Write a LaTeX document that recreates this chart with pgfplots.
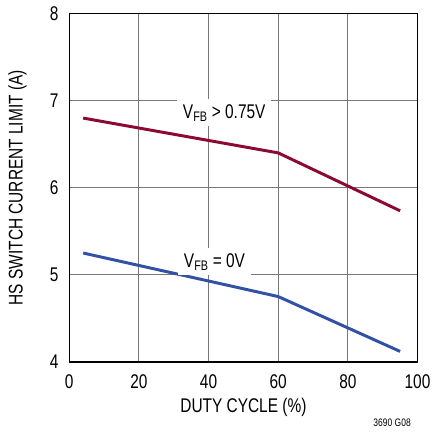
\documentclass[border=0pt]{standalone}
\usepackage{pgfplots}
\pgfplotsset{compat=1.18}
\usepackage{fontspec}
\setmainfont{Liberation Sans}[FakeStretch=0.78]
\definecolor{redline}{RGB}{140,10,50}
\definecolor{blueline}{RGB}{50,80,165}
\definecolor{gridc}{RGB}{120,120,120}
\begin{document}
\fontsize{20}{24}\selectfont
\begin{tikzpicture}
\begin{axis}[
  width=352pt, height=352pt, scale only axis,
  xmin=0, xmax=100, ymin=4, ymax=8,
  xtick={0,20,...,100}, ytick={4,5,6,7,8},
  grid=major,
  major grid style={gridc, line width=1pt},
  major tick length=0pt,
  axis line style={black, line width=1.5pt},
  tick label style={font=\fontsize{20}{24}\selectfont},
  label style={font=\fontsize{20}{24}\selectfont},
  /pgf/number format/assume math mode=true,
  xticklabel style={yshift=-6pt},
  yticklabel style={xshift=-4pt},
  xlabel={DUTY CYCLE (\%)},
  ylabel={HS SWITCH CURRENT LIMIT (A)},
  xlabel style={yshift=4pt},
  ylabel style={yshift=10pt},
  clip=false,
]
\addplot[redline, line width=3pt] coordinates {(4,6.80) (60,6.40) (95,5.735)};
\addplot[blueline, line width=3pt] coordinates {(4,5.25) (60,4.75) (95,4.12)};
\node[fill=white, inner xsep=6pt, inner ysep=5pt] at (axis cs:44.5,6.86) {V\textsubscript{FB} > 0.75V};
\node[fill=white, inner xsep=6pt, inner ysep=5pt] at (axis cs:41.7,5.15) {V\textsubscript{FB} = 0V};
\node[anchor=east, font=\fontsize{11}{13}\selectfont] at ([yshift=-62pt]rel axis cs:1,0) {3690 G08};
\path (rel axis cs:0,0) ++(-70pt,-72pt) rectangle ([xshift=15pt,yshift=7pt]rel axis cs:1,1);
\end{axis}
\end{tikzpicture}
\end{document}
